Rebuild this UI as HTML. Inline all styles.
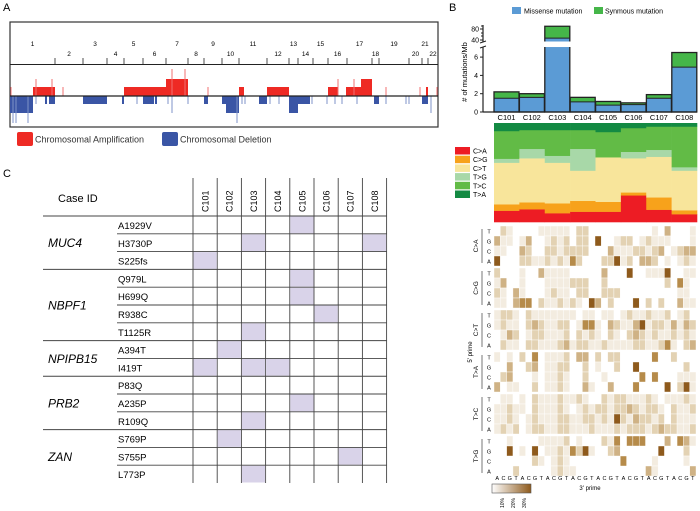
<!DOCTYPE html>
<html><head><meta charset="utf-8"><style>
html,body{margin:0;padding:0;background:#fff;}
svg{display:block;font-family:"Liberation Sans",Arial,sans-serif;}
</style></head><body>
<svg id="fig" width="700" height="511" viewBox="0 0 700 511" xmlns="http://www.w3.org/2000/svg">
<text x="3" y="11" font-size="11">A</text>
<text x="449" y="11" font-size="11">B</text>
<text x="3" y="177" font-size="11">C</text>
<g id="pa"></g>
<g id="pb"></g>
<g id="pc"></g>
<g id="pd"></g>
<g id="pt"></g>
</svg>
<script>
// ---------- data ----------
const chromEdges=[10,55,83,107,124,143,166,188,204,222,239,267,289,298,313,328,347,372,379,409,422,428,438];
const ampSegs=[[33,55,1],[124,166,1],[166,188,2],[239,244,1],[267,289,1],[328,338,1],[346,361,1],[361,372,2],[426,428,1]];
const ampSpikes=[[11,1],[36,2],[52,2],[63,1],[172,3],[185,3],[208,1],[338,2],[354,2],[386,1],[420,1],[437,1]];
const delSegs=[[10,33,2],[45,47,1],[49,55,1],[83,107,1],[122,124,1],[143,154,1],[155,157,1],[204,208,1],[222,226,1],[226,239,2],[259,267,1],[289,298,2],[298,310,1],[374,379,1],[422,428,1]];
const delSpikes=[[13,3],[16,3],[28,3],[36,1],[137,1],[168,1],[172,2],[188,1],[237,3],[242,1],[245,1],[270,1],[279,1],[312,1],[327,1],[335,1],[342,1],[357,1],[386,1],[406,1],[409,1],[431,2]];
const cases=["C101","C102","C103","C104","C105","C106","C107","C108"];
const missense=[1.5,1.6,47,1.1,0.75,0.8,1.5,4.9];
const totalMut=[2.2,2.0,90,1.6,1.15,1.0,1.9,6.5];
const lowTicks=[0,2,4,6];
const highTicks=[40,80];
const subTypes=["C>A","C>G","C>T","T>G","T>C","T>A"];
const heatGroups=["C>A","C>G","C>T","T>A","T>C","T>G"];
const subColors=["#ed1c24","#f7a21b","#f8e59b","#a8d8a8","#62bb46","#138a43"];
const shareCA=[0.115,0.13,0.09,0.105,0.105,0.27,0.125,0.08];
const shareCG=[0.065,0.07,0.10,0.11,0.10,0.03,0.125,0.04];
const shareCT=[0.42,0.445,0.41,0.305,0.45,0.345,0.41,0.40];
const shareTG=[0.04,0.095,0.07,0.22,0.0,0.065,0.07,0.035];
const shareTC=[0.28,0.19,0.26,0.19,0.255,0.24,0.235,0.41];
const shareTA=[0.08,0.07,0.07,0.07,0.09,0.05,0.035,0.035];
const bases=["T","G","C","A"];
const heat=[
 ["02100001111102200000000001030001","31101300121202205001220121110001","11003200221222200031112212301233","50002211212142000225120332010121"],
 ["20001003111100000300050011150011","13001000111122200200000000020410","21031000121102200222000000000110","11034402112121053020005020200311"],
 ["12210211111110110110121121120120","12110232112201441032113512213132","01320122111202121021023212112121","02110221112312211211112211241023"],
 ["10102040111203302022000004002000","00300230112200201002005000000020","02300010112100200100000404000111","30110020112100310030004000050251"],
 ["01101021112112100212211121011121","11211021112101212212232122102112","11210121112211221215213221202111","12120122112211121112122212322112"],
 ["00100001111201000214044400030431","00501050112142510023000000500020","00000021012100000000400001000010","00020000012110000000000031000003"]
];
const heatColors=["#ffffff","#f3ece0","#e3d2b3","#cfb285","#b68b4a","#8e5a1c"];
const genes=["MUC4","NBPF1","NPIPB15","PRB2","ZAN"];
const geneCounts=[3,4,2,3,3];
const muts=["A1929V","H3730P","S225fs","Q979L","H699Q","R938C","T1125R","A394T","I419T","P83Q","A235P","R109Q","S769P","S755P","L773P"];
const mutCases=[[4],[2,7],[0],[4],[4],[5],[2],[1],[0,2,3],[],[4],[2],[1],[6],[2]];

// ---------- helpers ----------
const NS="http://www.w3.org/2000/svg";
function mk(parent,tag,attrs,txt){const e=document.createElementNS(NS,tag);for(const k in attrs)e.setAttribute(k,attrs[k]);if(txt!==undefined)e.textContent=txt;parent.appendChild(e);return e;}

// ---------- Panel A ----------
const pa=document.getElementById('pa');
let el=mk(pa,'rect',{x:10,y:22,width:428,height:105,fill:'none',stroke:'#333','stroke-width':1.2});


mk(pa,'line',{x1:10,x2:438,y1:64.5,y2:64.5,stroke:'#222','stroke-width':1});
const base=96, ampH=[0,9,17,27], delH=[0,8,17,27];
ampSegs.forEach(s=>{el=mk(pa,'rect',{x:s[0],y:base-ampH[s[2]],width:s[1]-s[0],height:ampH[s[2]],fill:'#ee2a24'});

});
ampSpikes.forEach(s=>{el=mk(pa,'rect',{x:s[0]-0.5,y:base-ampH[s[1]],width:1,height:ampH[s[1]],fill:'#f07070'});

});
delSegs.forEach(s=>{el=mk(pa,'rect',{x:s[0],y:base,width:s[1]-s[0],height:delH[s[2]],fill:'#3a55a5'});

});
delSpikes.forEach(s=>{el=mk(pa,'rect',{x:s[0]-0.5,y:base,width:1,height:delH[s[1]],fill:'#7f93c8'});

});
mk(pa,'line',{x1:10,x2:438,y1:base,y2:base,stroke:'#222','stroke-width':1.2});
for(let i=0;i<22;i++){
  const a=chromEdges[i],b=chromEdges[i+1];
  if(i>0){mk(pa,'line',{x1:a,x2:a,y1:58,y2:64,stroke:'#222','stroke-width':0.8});}
  el=mk(pa,'text',{x:(a+b)/2,y:(i%2===0)?46:56,'font-size':6.5,'text-anchor':'middle'},String(i+1));
  
  
}
el=mk(pa,'rect',{x:17,y:132,width:16,height:14,rx:2,fill:'#ee2a24'});

el=mk(pa,'text',{x:35,y:142.5,'font-size':9,fill:'#333'},'Chromosomal Amplification');

el=mk(pa,'rect',{x:162,y:132,width:16,height:14,rx:2,fill:'#3a55a5'});

el=mk(pa,'text',{x:180,y:142.5,'font-size':9,fill:'#333'},'Chromosomal Deletion');


// ---------- Panel B bars ----------
const pb=document.getElementById('pb');
const bx0=494, bstep=25.4, bw=25;
const yLow=v=>112-v*9.15, LOWMAX=7.1;
const yHigh=v=>40-(v-40)*11/40;
mk(pb,'line',{x1:483,x2:483,y1:112,y2:47,stroke:'#222','stroke-width':1.2});
mk(pb,'line',{x1:483,x2:483,y1:42,y2:25,stroke:'#222','stroke-width':1.2});
lowTicks.forEach(t=>{mk(pb,'line',{x1:480,x2:483,y1:yLow(t),y2:yLow(t),stroke:'#222'});
 el=mk(pb,'text',{x:478,y:yLow(t)+2.5,'font-size':7,'text-anchor':'end'},String(t));
 });
highTicks.forEach(t=>{mk(pb,'line',{x1:480,x2:483,y1:yHigh(t),y2:yHigh(t),stroke:'#222'});
 el=mk(pb,'text',{x:479,y:yHigh(t)+2.5,'font-size':7,'text-anchor':'end'},String(t));
 });
[26,33,36].forEach(y=>mk(pb,'line',{x1:481,x2:483,y1:y,y2:y,stroke:'#222'}));
mk(pb,'line',{x1:480,x2:486,y1:48,y2:46,stroke:'#222'});
mk(pb,'line',{x1:480,x2:486,y1:43,y2:41,stroke:'#222'});
el=mk(pb,'text',{transform:'translate(467,72) rotate(-90)','font-size':7.5,'text-anchor':'middle'},'# of mutations/Mb');

cases.forEach((c,i)=>{
  const x=bx0+i*bstep;
  if(totalMut[i]<=LOWMAX){
    el=mk(pb,'rect',{x:x,y:yLow(missense[i]),width:bw,height:yLow(0)-yLow(missense[i]),fill:'#5b9bd5'});
    
    el=mk(pb,'rect',{x:x,y:yLow(totalMut[i]),width:bw,height:yLow(missense[i])-yLow(totalMut[i]),fill:'#45b649'});
    
    mk(pb,'rect',{x:x,y:yLow(totalMut[i]),width:bw,height:yLow(0)-yLow(totalMut[i]),fill:'none',stroke:'#222','stroke-width':1.3});
    mk(pb,'line',{x1:x,x2:x+bw,y1:yLow(missense[i]),y2:yLow(missense[i]),stroke:'#222','stroke-width':1});
  } else {
    el=mk(pb,'rect',{x:x,y:yLow(LOWMAX),width:bw,height:yLow(0)-yLow(LOWMAX),fill:'#5b9bd5'});
    
    mk(pb,'path',{d:`M${x} ${yLow(LOWMAX)}V${yLow(0)}H${x+bw}V${yLow(LOWMAX)}`,fill:'none',stroke:'#222','stroke-width':1.3});
    el=mk(pb,'rect',{x:x,y:yHigh(missense[i]),width:bw,height:yHigh(40)-yHigh(missense[i])+1.5,fill:'#5b9bd5'});
    
    el=mk(pb,'rect',{x:x,y:yHigh(totalMut[i]),width:bw,height:yHigh(missense[i])-yHigh(totalMut[i]),fill:'#45b649'});
    
    mk(pb,'path',{d:`M${x} ${yHigh(40)+1.5}V${yHigh(totalMut[i])}H${x+bw}V${yHigh(40)+1.5}`,fill:'none',stroke:'#222','stroke-width':1.3});
    mk(pb,'line',{x1:x,x2:x+bw,y1:yHigh(missense[i]),y2:yHigh(missense[i]),stroke:'#222','stroke-width':1});
  }
  el=mk(pb,'text',{x:x+bw/2,y:120,'font-size':7.5,'text-anchor':'middle'},c);
  
});
mk(pb,'line',{x1:483,x2:697,y1:112,y2:112,stroke:'#222','stroke-width':1.2});
el=mk(pb,'rect',{x:512,y:7,width:9,height:7,fill:'#5b9bd5'});

el=mk(pb,'text',{x:524,y:13.5,'font-size':7},'Missense mutation');

el=mk(pb,'rect',{x:594,y:7,width:9,height:7,fill:'#45b649'});

el=mk(pb,'text',{x:605,y:13.5,'font-size':7},'Synmous mutation');


// ---------- composition ----------
const pc=document.getElementById('pc');
const shares=[shareCA,shareCG,shareCT,shareTG,shareTC,shareTA];
const cTop=123,cBot=222,cH=cBot-cTop, cx0=494, cstep=(697-494)/8;
cases.forEach((c,i)=>{
  let cum=0;
  shares.forEach((arr,k)=>{
    const h=arr[i]*cH;
    el=mk(pc,'rect',{x:cx0+i*cstep,y:cBot-cum-h,width:cstep+0.3,height:h+0.3,fill:subColors[k]});
    
    cum+=h;
  });
});
subTypes.forEach((s,k)=>{
  el=mk(pc,'rect',{x:455,y:147+k*8.7,width:15,height:7.5,fill:subColors[k]});
  
  el=mk(pc,'text',{x:473,y:153.5+k*8.7,'font-size':7},s);
  
});

// ---------- heatmap ----------
const pd=document.getElementById('pd');
const hx0=494, cw=(696-494)/32, hy0=226, rh=10, gp=42;
heat.forEach((grp,g)=>{
  const gy=hy0+g*gp;
  el=mk(pd,'text',{transform:`translate(478,${gy+20}) rotate(-90)`,'font-size':6.5,'text-anchor':'middle'},heatGroups[g]);
  
  mk(pd,'line',{x1:482,x2:482,y1:gy+3,y2:gy+37,stroke:'#555','stroke-width':0.8});
  grp.forEach((row,r)=>{
    el=mk(pd,'text',{x:489,y:gy+r*rh+7.5,'font-size':5.5,'text-anchor':'middle'},bases[r]);
    
    for(let j=0;j<32;j++){
      const v=+row[j];
      if(!v)continue;
      el=mk(pd,'rect',{x:hx0+j*cw,y:gy+r*rh,width:cw,height:rh,fill:heatColors[v],stroke:'#fff','stroke-width':0.4});
      
    }
  });
});
for(let j=0;j<32;j++){
  el=mk(pd,'text',{x:hx0+j*cw+cw/2,y:480,'font-size':5.5,'text-anchor':'middle'},"ACGT"[j%4]);
  
}
el=mk(pd,'text',{x:590,y:490,'font-size':6,'text-anchor':'middle'},"3' prime");

el=mk(pd,'text',{transform:'translate(472,352) rotate(-90)','font-size':6,'text-anchor':'middle'},"5' prime");

const defs=mk(pd,'defs',{});
const lg=mk(defs,'linearGradient',{id:'cb',x1:0,x2:1,y1:0,y2:0});
mk(lg,'stop',{offset:0,'stop-color':'#ffffff'});mk(lg,'stop',{offset:1,'stop-color':'#8e5a1c'});
el=mk(pd,'rect',{x:492,y:484,width:39,height:9,fill:'url(#cb)',stroke:'#555','stroke-width':0.6});

["10%","20%","30%"].forEach((t,i)=>{
  el=mk(pd,'text',{transform:`translate(${504+i*11},508) rotate(-90)`,'font-size':5},t);
  
});

// ---------- table ----------
const pt=document.getElementById('pt');
const colX=[193,217.2,241.4,265.6,289.8,314,338.2,362.4,386.6], rowY0=216, rp=17.8;
const nRows=muts.length, tBot=rowY0+nRows*rp;
colX.forEach(x=>mk(pt,'line',{x1:x,x2:x,y1:178,y2:tBot,stroke:'#444','stroke-width':0.9}));
el=mk(pt,'text',{x:58,y:202,'font-size':11},'Case ID');

cases.forEach((c,i)=>{
  el=mk(pt,'text',{transform:`translate(${colX[i]+15.5},212) rotate(-90)`,'font-size':9},c);
  
});
mutCases.forEach((cs,r)=>cs.forEach(ci=>{
  el=mk(pt,'rect',{x:colX[ci]+0.5,y:rowY0+r*rp+0.5,width:23.2,height:rp-1,fill:'#d9d3e9'});
  
}));
let r0=0;
genes.forEach((g,gi)=>{
  const y=rowY0+r0*rp;
  mk(pt,'line',{x1:43,x2:386.6,y1:y,y2:y,stroke:'#444','stroke-width':1});
  el=mk(pt,'text',{x:48,y:y+geneCounts[gi]*rp/2+4.5,'font-size':12,'font-style':'italic'},g);
  
  for(let k=0;k<geneCounts[gi];k++){
    const ry=rowY0+(r0+k)*rp;
    if(k>0)mk(pt,'line',{x1:117,x2:386.6,y1:ry,y2:ry,stroke:'#444','stroke-width':0.9});
    el=mk(pt,'text',{x:118,y:ry+13,'font-size':9.5},muts[r0+k]);
    
  }
  r0+=geneCounts[gi];
});
</script>
</body></html>
